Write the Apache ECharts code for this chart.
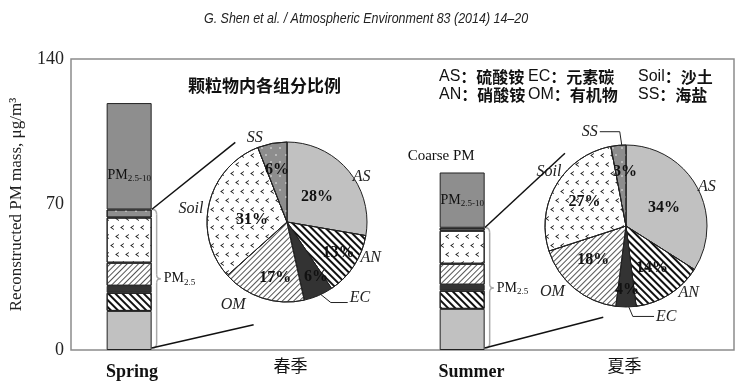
<!DOCTYPE html>
<html><head><meta charset="utf-8">
<script src="https://cdn.jsdelivr.net/npm/echarts@6/dist/echarts.min.js"></script>
<style>html,body{margin:0;padding:0;background:#fff}#c{width:753px;height:389px}</style>
</head><body><div id="c"></div>
<script>
// ---------------- data ----------------
const seasons = ['Spring', 'Summer'];
const seasonsCN = ['春季', '夏季'];
const components = ['AS', 'AN', 'EC', 'OM', 'Soil', 'SS'];
const componentsCN = ['硫酸铵', '硝酸铵', '元素碳', '有机物', '沙土', '海盐'];
const springPM25 = [18.8, 8.7, 3.4, 11.1, 21.7, 3.9];   // µg/m3
const summerPM25 = [19.8, 8.7, 2.9, 10.1, 15.9, 1.4];   // µg/m3
const coarsePM = [51.2, 26.6];                           // PM2.5-10, spring / summer
const springPct = [28, 13, 6, 17, 31, 6];
const summerPct = [34, 14, 4, 18, 27, 3];
const yTicks = [0, 70, 140];
const headerText = 'G. Shen et al. / Atmospheric Environment 83 (2014) 14–20';
const chartTitle = '颗粒物内各组分比例';

// ---------------- layout / style ----------------
const L = {
  grid: {left: 67, right: 19, top: 59, bottom: 39},
  barX: [8.77, 59.0],
  seasonLabelX: [9.2, 60.4],
  cnLabelX: [33.1, 83.5],
  barWidth: 45,
  pies: [{center: [287, 222], r: 80}, {center: [626, 226], r: 81}],
  pctPolar: [
    [[50, 39], [121, 60], [152, 62], [192, 57], [273, 35], [349, 53]],
    [[65, 42], [148, 49], [179, 64], [224, 47], [300, 48], [359, 54]]
  ],
  namePolar: [
    [[59, 87], [113, 91], [136, 105], [213, 99], [278, 97], [339, 90]],
    [[64, 90], [137, 92], [156, 99], [228, 99], [305, 94], [339, 101]]
  ],
  leaders: [
    {EC: {angle: 155, dy: 5, run: 10}},
    {EC: {angle: 178, dy: 0, run: 4}, SS: {angle: 357, dy: 0, run: -2}}
  ],
  connectors: [[[327, 95], [198, 108]], [[320, 95], [194, 94]]],
  coarseLabelOffset: [[0, 19], [0, 0]],
  legendCols: [439, 528, 638],
  legendRows: [77, 95]
};
const SERIF = "'Liberation Serif','Times New Roman',serif";
const CJK = "'Noto Sans CJK SC',sans-serif";

const compStyle = {
  AS: {color: '#c1c1c1'},
  AN: {color: '#ffffff', decal: {symbol: 'rect', symbolSize: 1, dashArrayX: [1, 0], dashArrayY: [2, 2.3], rotation: Math.PI / 4, color: '#111'}},
  EC: {color: '#333333'},
  OM: {color: '#ffffff', decal: {symbol: 'rect', symbolSize: 1, dashArrayX: [1, 0], dashArrayY: [1, 3], rotation: -Math.PI / 4, color: '#555'}},
  Soil: {color: '#ffffff', decal: {symbol: 'path://M6,0L0,4L6,8L6,6.4L2.6,4L6,1.6Z', symbolSize: 1, dashArrayX: [[4, 6], [0, 5, 4, 1]], dashArrayY: [5, 4], color: '#222'}},
  SS: {color: '#8d8d8d', decal: {symbol: 'circle', symbolSize: 0.8, dashArrayX: [[2, 7], [0, 4.5, 2, 2.5]], dashArrayY: [2, 5], color: '#eeeeee'}}
};
const coarseStyle = {color: '#8e8e8e'};

function polar(k, ang, d) {
  const c = L.pies[k].center, a = ang * Math.PI / 180;
  return [c[0] + d * Math.sin(a), c[1] - d * Math.cos(a)];
}
function nearestIdx(arr, v) {
  let b = 0; arr.forEach((x, i) => { if (Math.abs(x - v) < Math.abs(arr[b] - v)) b = i; }); return b;
}

// ---------------- series ----------------
const series = [];
components.forEach((name, i) => {
  series.push({
    type: 'bar', name, stack: 'pm', xAxisIndex: 0, yAxisIndex: 0,
    barWidth: L.barWidth, silent: true, animation: false,
    encode: {x: 1, y: 0},
    data: [[springPM25[i], L.barX[0]], [summerPM25[i], L.barX[1]]],
    itemStyle: Object.assign({borderColor: '#222', borderWidth: 1}, compStyle[name])
  });
});
series.push({
  type: 'bar', name: 'PM2.5-10', stack: 'pm', xAxisIndex: 0, yAxisIndex: 0,
  barWidth: L.barWidth, silent: true, animation: false,
  encode: {x: 1, y: 0},
  data: coarsePM.map((v, k) => ({value: [v, L.barX[k]], label: {offset: L.coarseLabelOffset[k]}})),
  itemStyle: Object.assign({borderColor: '#222', borderWidth: 1}, coarseStyle),
  label: {show: true, position: 'inside', formatter: 'PM{s|2.5-10}', fontFamily: SERIF, fontSize: 14, color: '#111', lineHeight: 16,
    rich: {s: {fontFamily: SERIF, fontSize: 9, color: '#111', verticalAlign: 'bottom', lineHeight: 16}}}
});

[springPct, summerPct].forEach((pct, k) => {
  const c = L.pies[k].center, r = L.pies[k].r;
  series.push({
    type: 'pie', center: c, radius: r, startAngle: 90, clockwise: true,
    avoidLabelOverlap: false, silent: true, animation: false,
    data: components.map((name, i) => ({name, value: pct[i], itemStyle: compStyle[name]})),
    itemStyle: {borderColor: '#222', borderWidth: 1},
    label: {show: true, position: 'inside', formatter: '{c}%', fontFamily: SERIF, fontWeight: 'bold', fontSize: 16, color: '#111'},
    labelLine: {show: false},
    labelLayout: function (p) {
      const q = L.pctPolar[k][p.dataIndex];
      const pos = polar(k, q[0], q[1]);
      return {x: pos[0], y: pos[1], align: 'center', verticalAlign: 'middle'};
    }
  });
  series.push({
    type: 'pie', center: c, radius: r, startAngle: 90, clockwise: true,
    avoidLabelOverlap: false, silent: true, animation: false, z: 3,
    data: components.map((name, i) => ({
      name, value: pct[i],
      labelLine: {show: !!L.leaders[k][name], lineStyle: {color: '#222', width: 1}}
    })),
    itemStyle: {color: 'rgba(0,0,0,0)', borderWidth: 0},
    label: {show: true, position: 'outside', formatter: '{b}', fontFamily: SERIF, fontStyle: 'italic', fontSize: 16, color: '#222'},
    labelLine: {show: false, length: 5, length2: 5},
    labelLayout: function (p) {
      const i = p.dataIndex;
      const q = L.namePolar[k][i];
      const pos = polar(k, q[0], q[1]);
      const out = {x: pos[0], y: pos[1], align: 'center', verticalAlign: 'middle'};
      const ld = L.leaders[k][components[i]];
      if (ld) {
        const p1 = polar(k, ld.angle, r);
        const yl = pos[1] + ld.dy;
        const p2 = [p1[0] + ld.run, yl];
        const hw = p.labelRect.width / 2 + 2;
        const p3 = [pos[0] > p2[0] ? pos[0] - hw : pos[0] + hw, yl];
        out.labelLinePoints = [p1, p2, p3];
      }
      return out;
    }
  });
});

// header + legend texts (upper right)
const headerGraphic = {
  type: 'text', silent: true, x: 204, y: 19, scaleX: 0.89,
  style: {text: headerText, align: 'left', verticalAlign: 'middle',
    font: "italic 14px 'Liberation Sans',Arial,sans-serif", fill: '#222'}
};
const legendGraphics = components.map((name, i) => ({
  type: 'text', silent: true,
  x: L.legendCols[Math.floor(i / 2)], y: L.legendRows[i % 2],
  style: {
    text: '{a|' + name + '}{b|：' + componentsCN[i] + '}',
    verticalAlign: 'middle', align: 'left',
    rich: {
      a: {fontFamily: "'Liberation Sans',Arial,sans-serif", fontSize: 16, fill: '#111'},
      b: {fontFamily: CJK, fontSize: 16, fontWeight: 'bold', fill: '#111'}
    }
  }
}));

const option = {
  backgroundColor: '#fff',
  animation: false,
  title: [
    {text: chartTitle, left: 183, top: 72,
      textStyle: {fontFamily: CJK, fontWeight: 'bold', fontSize: 17, color: '#111'}}
  ],
  grid: Object.assign({show: true, borderColor: '#8c8c8c', borderWidth: 1.5, containLabel: false}, L.grid),
  xAxis: [
    {type: 'value', min: 0, max: 100, axisLine: {show: false}, axisTick: {show: false}, splitLine: {show: false},
      axisLabel: {customValues: L.seasonLabelX, margin: 13, formatter: v => seasons[nearestIdx(L.seasonLabelX, v)],
        fontFamily: SERIF, fontWeight: 'bold', fontSize: 18, color: '#111'}},
    {type: 'value', min: 0, max: 100, position: 'bottom', axisLine: {show: false}, axisTick: {show: false}, splitLine: {show: false},
      axisLabel: {customValues: L.cnLabelX, margin: 7, formatter: v => seasonsCN[nearestIdx(L.cnLabelX, v)],
        fontFamily: CJK, fontSize: 17, color: '#111'}}
  ],
  yAxis: {
    type: 'value', min: 0, max: 140, interval: 70,
    name: 'Reconstructed PM mass, μg/m³', nameLocation: 'middle', nameGap: 46,
    nameTextStyle: {fontFamily: SERIF, fontSize: 17, color: '#222'},
    axisLine: {show: false}, axisTick: {show: false}, splitLine: {show: false},
    axisLabel: {customValues: yTicks, margin: 7, fontFamily: SERIF, fontSize: 18, color: '#222'}
  },
  graphic: [headerGraphic].concat(legendGraphics),
  series
};

const chart = echarts.init(document.getElementById('c'), null, {renderer: 'canvas'});
chart.setOption(option);

// connectors, braces and PM2.5 labels derived from the axes
const extra = [];
const braceStyle = {stroke: '#aaa', lineWidth: 1.5, fill: null};
[springPM25, summerPM25].forEach((pm, k) => {
  const total = pm.reduce((a, b) => a + b, 0);
  const top = chart.convertToPixel({xAxisIndex: 0, yAxisIndex: 0}, [L.barX[k], total]);
  const bot = chart.convertToPixel({xAxisIndex: 0, yAxisIndex: 0}, [L.barX[k], 0]);
  const right = top[0] + L.barWidth / 2;
  const ty = top[1], by = bot[1] - 2;
  const cu = polar(k, L.connectors[k][0][0], L.connectors[k][0][1]);
  const cl = polar(k, L.connectors[k][1][0], L.connectors[k][1][1]);
  extra.push({type: 'line', silent: true, z: 10, shape: {x1: right, y1: ty, x2: cu[0], y2: cu[1]}, style: {stroke: '#111', lineWidth: 1.5}});
  extra.push({type: 'line', silent: true, z: 10, shape: {x1: right, y1: by, x2: cl[0], y2: cl[1]}, style: {stroke: '#111', lineWidth: 1.5}});
  const mid = (ty + by) / 2, a = right + 1, b = right + 5, t = right + 9;
  extra.push({type: 'group', silent: true, z: 10, children: [
    {type: 'bezierCurve', shape: {x1: a, y1: ty, cpx1: b, cpy1: ty, x2: b, y2: ty + 5}, style: braceStyle},
    {type: 'line', shape: {x1: b, y1: ty + 5, x2: b, y2: mid - 4}, style: braceStyle},
    {type: 'bezierCurve', shape: {x1: b, y1: mid - 4, cpx1: b, cpy1: mid, x2: t, y2: mid}, style: braceStyle},
    {type: 'bezierCurve', shape: {x1: t, y1: mid, cpx1: b, cpy1: mid, x2: b, y2: mid + 4}, style: braceStyle},
    {type: 'line', shape: {x1: b, y1: mid + 4, x2: b, y2: by - 5}, style: braceStyle},
    {type: 'bezierCurve', shape: {x1: b, y1: by - 5, cpx1: b, cpy1: by, x2: a, y2: by}, style: braceStyle}
  ]});
  extra.push({type: 'text', silent: true, z: 10, x: right + 12, y: mid,
    style: {text: 'PM{s|2.5}', verticalAlign: 'middle', fontFamily: SERIF, fontSize: 14, fill: '#111', lineHeight: 16,
      rich: {s: {fontFamily: SERIF, fontSize: 9, fill: '#111', verticalAlign: 'bottom', lineHeight: 16}}}});
  if (k === 1) {
    const ct = chart.convertToPixel({xAxisIndex: 0, yAxisIndex: 0}, [L.barX[k], total + coarsePM[k]]);
    extra.push({type: 'text', silent: true, z: 10, x: ct[0] - 21, y: ct[1] - 16,
      style: {text: 'Coarse PM', align: 'center', verticalAlign: 'middle', fontFamily: SERIF, fontSize: 15, fill: '#111'}});
  }
});
chart.setOption({graphic: [headerGraphic].concat(legendGraphics, extra)});
</script>
</body></html>
